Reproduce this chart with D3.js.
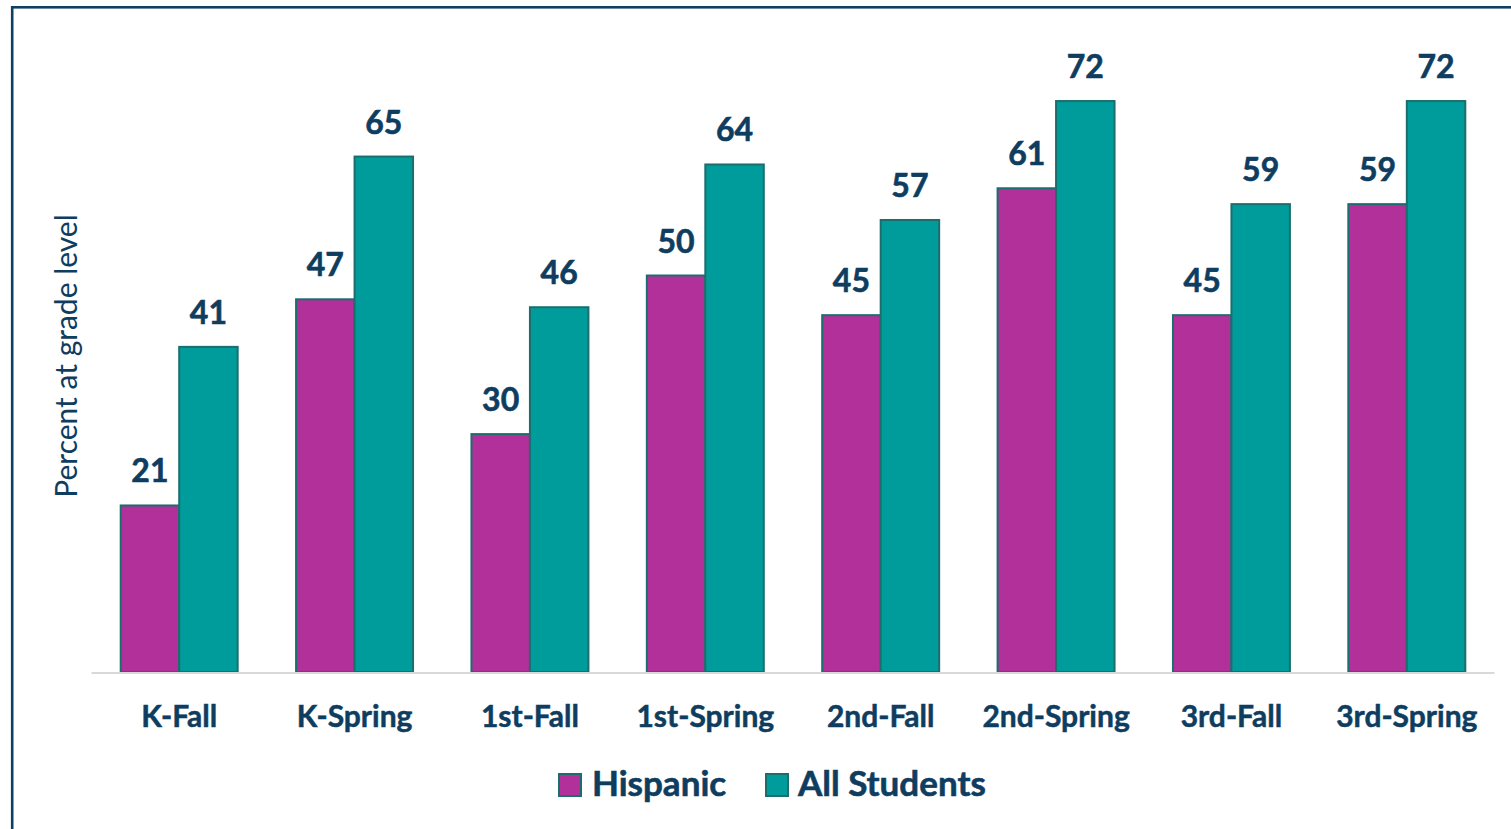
<!DOCTYPE html>
<html>
<head>
<meta charset="utf-8">
<script src="https://cdn.jsdelivr.net/npm/d3@7"></script>
<style>
  html, body { margin: 0; padding: 0; background: #fff; }
  svg { display: block; }
</style>
</head>
<body>
<svg id="chart" width="1511" height="829"></svg>
<script>
const categories = ["K-Fall", "K-Spring", "1st-Fall", "1st-Spring", "2nd-Fall", "2nd-Spring", "3rd-Fall", "3rd-Spring"];
const hispanic = [21, 47, 30, 50, 45, 61, 45, 59];
const allStudents = [41, 65, 46, 64, 57, 72, 59, 72];
const seriesNames = ["Hispanic", "All Students"];
const yTitle = "Percent at grade level";

const colors = ["#b2309a", "#009b9b"];
const strokeCol = "#1c6e6e";
const textCol = "#0e3d5f";
const font = "Lato, 'Open Sans', sans-serif";

const svg = d3.select("#chart");

// outer frame
svg.append("rect")
  .attr("x", 12.2).attr("y", 7.3)
  .attr("width", 1600).attr("height", 1000)
  .attr("fill", "none").attr("stroke", "#0d4063").attr("stroke-width", 2.6);

const x0 = d3.scaleBand().domain(categories).range([91.5, 1494.5]).paddingInner(0).paddingOuter(0);
const groupW = x0.bandwidth() * 0.667;
const x1 = d3.scaleBand().domain(seriesNames).range([0, groupW]);
const y = d3.scaleLinear().domain([0, 80]).range([672, 672 - 80 * 7.93]);

const rows = categories.map((c, i) => ({ cat: c, vals: [hispanic[i], allStudents[i]] }));

const groups = svg.append("g").selectAll("g").data(rows).join("g")
  .attr("transform", d => `translate(${x0(d.cat) + (x0.bandwidth() - groupW) / 2},0)`);

groups.selectAll("rect").data(d => d.vals.map((v, j) => ({ v, s: seriesNames[j], j })))
  .join("rect")
  .attr("x", d => x1(d.s))
  .attr("y", d => y(d.v))
  .attr("width", x1.bandwidth())
  .attr("height", d => y(0) - y(d.v))
  .attr("fill", d => colors[d.j])
  .attr("stroke", strokeCol)
  .attr("stroke-width", 2);

groups.selectAll("text").data(d => d.vals.map((v, j) => ({ v, s: seriesNames[j], j })))
  .join("text")
  .attr("x", d => x1(d.s) + x1.bandwidth() / 2)
  .attr("y", d => y(d.v) - 23)
  .attr("text-anchor", "middle")
  .attr("font-family", font)
  .attr("font-weight", "bold")
  .attr("font-size", 32)
  .attr("fill", textCol)
  .attr("stroke", textCol).attr("stroke-width", 0.6)
  .text(d => d.v);

// baseline
svg.append("line")
  .attr("x1", 91.5).attr("x2", 1494.5)
  .attr("y1", y(0) + 1).attr("y2", y(0) + 1)
  .attr("stroke", "#d9d9d9").attr("stroke-width", 2);

// x axis labels
const xAxis = d3.axisBottom(x0).tickSize(0).tickPadding(0);
const gx = svg.append("g").attr("transform", `translate(0,${y(0)})`).call(xAxis);
gx.select(".domain").remove();
gx.selectAll("text")
  .attr("dy", null)
  .attr("y", 55)
  .attr("font-family", font)
  .attr("font-weight", "bold")
  .attr("font-size", 30)
  .attr("fill", textCol)
  .attr("stroke", textCol).attr("stroke-width", 0.5);

// y title
svg.append("text")
  .attr("transform", "translate(77,356) rotate(-90)")
  .attr("text-anchor", "middle")
  .attr("font-family", font)
  .attr("font-size", 30)
  .attr("fill", textCol)
  .text(yTitle);

// legend
const legendItems = [
  { name: seriesNames[0], color: colors[0], x: 559, tx: 592 },
  { name: seriesNames[1], color: colors[1], x: 766, tx: 798 }
];
const lg = svg.append("g");
legendItems.forEach(it => {
  lg.append("rect").attr("x", it.x).attr("y", 774).attr("width", 22).attr("height", 22)
    .attr("fill", it.color).attr("stroke", strokeCol).attr("stroke-width", 2);
  lg.append("text").attr("x", it.tx).attr("y", 796)
    .attr("font-family", font).attr("font-weight", "bold").attr("font-size", 35)
    .attr("fill", textCol)
    .attr("stroke", textCol).attr("stroke-width", 0.6)
    .text(it.name);
});
</script>
</body>
</html>
